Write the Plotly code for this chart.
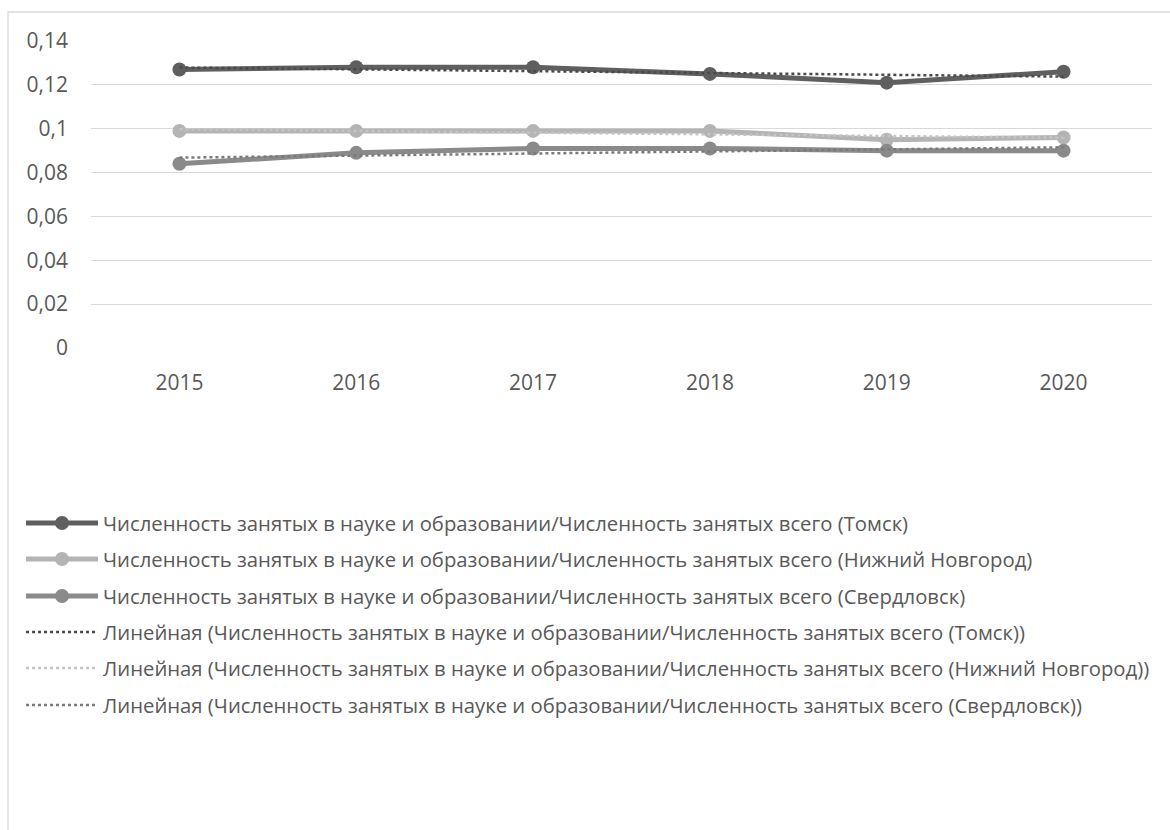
import numpy as np
import plotly.graph_objects as go

years = ["2015", "2016", "2017", "2018", "2019", "2020"]
tomsk = [0.127, 0.128, 0.128, 0.125, 0.121, 0.126]
nnov = [0.099, 0.099, 0.099, 0.099, 0.095, 0.096]
sverd = [0.084, 0.089, 0.091, 0.091, 0.090, 0.090]
ytick_vals = [0, 0.02, 0.04, 0.06, 0.08, 0.10, 0.12, 0.14]
ytick_text = ["0", "0,02", "0,04", "0,06", "0,08", "0,1", "0,12", "0,14"]

base = "Численность занятых в науке и образовании/Численность занятых всего"
names = [f"{base} (Томск)", f"{base} (Нижний Новгород)", f"{base} (Свердловск)"]
trend_names = [f"Линейная ({nm})" for nm in names]
series = [tomsk, nnov, sverd]
colors = ["#5f5f5f", "#b4b4b4", "#8a8a8a"]
trend_colors = ["#4a4a4a", "#c4c4c4", "#7a7a7a"]

W, H = 1170, 830
L, R, T, B = 91, 1152, 41, 348

fig = go.Figure()
for i, (nm, ys, c) in enumerate(zip(names, series, colors)):
    fig.add_trace(go.Scatter(x=years, y=ys, name=nm, mode="lines+markers",
                             line=dict(color=c, width=5),
                             marker=dict(color=c, size=14)))
xi = np.arange(1, len(years) + 1)
for i, (nm, ys, c) in enumerate(zip(trend_names, series, trend_colors)):
    k, b = np.polyfit(xi, ys, 1)
    fig.add_trace(go.Scatter(x=years, y=k * xi + b, name=nm, mode="lines",
                             line=dict(color=c, width=2.5, dash="dot")))

def px_x(p):
    return (p - L) / (R - L)

def px_y(p):
    return (B - p) / (B - T)

shapes = [dict(type="rect", xref="paper", yref="paper",
               x0=px_x(8), x1=px_x(1200), y0=px_y(12), y1=px_y(900),
               line=dict(color="#d9d9d9", width=1.3), fillcolor="rgba(0,0,0,0)", layer="below")]
annotations = []

# manual legend (Excel-style long symbols)
row_y = [523, 559, 596, 632, 668, 705]
sym_x0, sym_x1, text_x = 26, 98, 101
entries = ([(nm, c, "solid") for nm, c in zip(names, colors)] +
           [(nm, c, "dot") for nm, c in zip(trend_names, trend_colors)])
for (nm, c, kind), yy in zip(entries, row_y):
    if kind == "solid":
        shapes.append(dict(type="line", xref="paper", yref="paper",
                           x0=px_x(sym_x0), x1=px_x(sym_x1), y0=px_y(yy), y1=px_y(yy),
                           line=dict(color=c, width=5)))
        cx = (sym_x0 + sym_x1) / 2
        shapes.append(dict(type="circle", xref="paper", yref="paper",
                           x0=px_x(cx - 7), x1=px_x(cx + 7), y0=px_y(yy + 7), y1=px_y(yy - 7),
                           line=dict(color=c, width=0), fillcolor=c))
    else:
        shapes.append(dict(type="line", xref="paper", yref="paper",
                           x0=px_x(sym_x0), x1=px_x(sym_x1), y0=px_y(yy), y1=px_y(yy),
                           line=dict(color=c, width=2.5, dash="dot")))
    annotations.append(dict(xref="paper", yref="paper", x=px_x(text_x), y=px_y(yy),
                            xanchor="left", yanchor="middle", showarrow=False, text=nm,
                            align="left", font=dict(size=20.3, color="#595959")))

font = "Open Sans"
fig.update_layout(
    width=W, height=H,
    margin=dict(l=L, r=W - R, t=T, b=H - B),
    paper_bgcolor="white", plot_bgcolor="white",
    font=dict(family=font, size=21, color="#595959"),
    xaxis=dict(type="category", range=[-0.5, 5.5], showgrid=False, showline=False,
               ticks="", tickfont=dict(size=21, color="#595959"), ticklabelstandoff=20),
    yaxis=dict(range=[0, 0.14], tickvals=ytick_vals, ticktext=ytick_text,
               showgrid=True, gridcolor="#d9d9d9", gridwidth=1.3, zeroline=False,
               showline=False, ticks="", tickfont=dict(size=21, color="#595959"),
               ticklabelstandoff=22),
    showlegend=False,
    shapes=shapes,
    annotations=annotations,
)
fig.write_html("out.html")
